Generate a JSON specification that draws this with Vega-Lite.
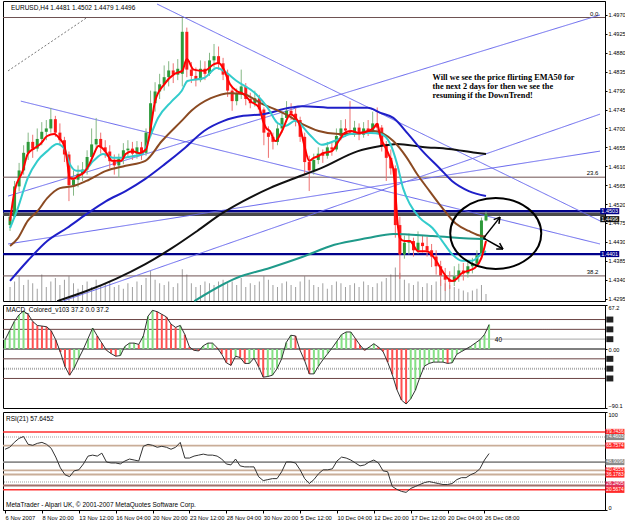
{
"$schema": "https://vega.github.io/schema/vega-lite/v6.json",
"padding": {"left": 0, "top": 0, "right": 0, "bottom": 0},
"background": "#ffffff",
"spacing": 4,
"bounds": "flush",
"config": {"view": {"stroke": "#000000", "strokeWidth": 1}, "text": {"font": "Liberation Sans"}},
"datasets": {
"K": [
{"i":0,"o":1.4470,"h":1.4498,"l":1.4456,"c":1.4490,"v":40,"m":14,"r":62},
{"i":2,"o":1.4490,"h":1.4575,"l":1.4485,"c":1.4562,"v":55,"m":28,"r":64},
{"i":4,"o":1.4562,"h":1.4618,"l":1.4550,"c":1.4600,"v":70,"m":42,"r":69},
{"i":6,"o":1.4600,"h":1.4660,"l":1.4590,"c":1.4642,"v":45,"m":52,"r":73},
{"i":8,"o":1.4642,"h":1.4690,"l":1.4625,"c":1.4668,"v":60,"m":58,"r":75},
{"i":10,"o":1.4668,"h":1.4685,"l":1.4630,"c":1.4652,"v":50,"m":53,"r":67},
{"i":12,"o":1.4652,"h":1.4700,"l":1.4645,"c":1.4675,"v":35,"m":42,"r":66},
{"i":14,"o":1.4675,"h":1.4715,"l":1.4660,"c":1.4692,"v":75,"m":36,"r":68},
{"i":16,"o":1.4692,"h":1.4720,"l":1.4672,"c":1.4700,"v":40,"m":35,"r":69},
{"i":18,"o":1.4700,"h":1.4749,"l":1.4690,"c":1.4722,"v":55,"m":34,"r":67},
{"i":20,"o":1.4722,"h":1.4730,"l":1.4680,"c":1.4690,"v":65,"m":28,"r":63},
{"i":22,"o":1.4690,"h":1.4712,"l":1.4660,"c":1.4672,"v":45,"m":14,"r":54},
{"i":24,"o":1.4672,"h":1.4680,"l":1.4620,"c":1.4638,"v":60,"m":-5,"r":43},
{"i":26,"o":1.4638,"h":1.4645,"l":1.4527,"c":1.4565,"v":70,"m":-27,"r":36},
{"i":28,"o":1.4565,"h":1.4600,"l":1.4540,"c":1.4578,"v":50,"m":-40,"r":34},
{"i":30,"o":1.4578,"h":1.4612,"l":1.4560,"c":1.4592,"v":35,"m":-29,"r":40},
{"i":32,"o":1.4592,"h":1.4620,"l":1.4575,"c":1.4602,"v":45,"m":-14,"r":41},
{"i":34,"o":1.4602,"h":1.4648,"l":1.4590,"c":1.4632,"v":55,"m":0,"r":47},
{"i":36,"o":1.4632,"h":1.4700,"l":1.4620,"c":1.4662,"v":40,"m":16,"r":55},
{"i":38,"o":1.4662,"h":1.4725,"l":1.4650,"c":1.4675,"v":60,"m":32,"r":56},
{"i":40,"o":1.4675,"h":1.4690,"l":1.4640,"c":1.4655,"v":45,"m":20,"r":55},
{"i":42,"o":1.4655,"h":1.4672,"l":1.4630,"c":1.4645,"v":50,"m":9,"r":58},
{"i":44,"o":1.4645,"h":1.4660,"l":1.4605,"c":1.4622,"v":55,"m":-2,"r":49},
{"i":46,"o":1.4622,"h":1.4638,"l":1.4590,"c":1.4612,"v":40,"m":-7,"r":48},
{"i":48,"o":1.4612,"h":1.4640,"l":1.4582,"c":1.4628,"v":45,"m":-11,"r":48},
{"i":50,"o":1.4628,"h":1.4665,"l":1.4615,"c":1.4648,"v":35,"m":-10,"r":47},
{"i":52,"o":1.4648,"h":1.4672,"l":1.4630,"c":1.4652,"v":50,"m":4,"r":50},
{"i":54,"o":1.4652,"h":1.4668,"l":1.4625,"c":1.4640,"v":40,"m":9,"r":52},
{"i":56,"o":1.4640,"h":1.4670,"l":1.4628,"c":1.4655,"v":55,"m":9,"r":51},
{"i":58,"o":1.4655,"h":1.4668,"l":1.4625,"c":1.4642,"v":45,"m":7,"r":50},
{"i":60,"o":1.4642,"h":1.4700,"l":1.4635,"c":1.4690,"v":65,"m":20,"r":65},
{"i":62,"o":1.4690,"h":1.4790,"l":1.4680,"c":1.4760,"v":85,"m":50,"r":67},
{"i":64,"o":1.4760,"h":1.4810,"l":1.4740,"c":1.4788,"v":60,"m":59,"r":66},
{"i":66,"o":1.4788,"h":1.4830,"l":1.4770,"c":1.4805,"v":50,"m":57,"r":64},
{"i":68,"o":1.4805,"h":1.4850,"l":1.4790,"c":1.4822,"v":45,"m":53,"r":65},
{"i":70,"o":1.4822,"h":1.4860,"l":1.4800,"c":1.4838,"v":55,"m":49,"r":64},
{"i":72,"o":1.4838,"h":1.4855,"l":1.4808,"c":1.4828,"v":40,"m":38,"r":62},
{"i":74,"o":1.4828,"h":1.4865,"l":1.4815,"c":1.4842,"v":50,"m":33,"r":64},
{"i":76,"o":1.4830,"h":1.4963,"l":1.4800,"c":1.4930,"v":90,"m":36,"r":69},
{"i":78,"o":1.4930,"h":1.4940,"l":1.4822,"c":1.4840,"v":75,"m":22,"r":53},
{"i":80,"o":1.4840,"h":1.4858,"l":1.4808,"c":1.4825,"v":50,"m":3,"r":53},
{"i":82,"o":1.4825,"h":1.4845,"l":1.4800,"c":1.4815,"v":40,"m":-2,"r":55},
{"i":84,"o":1.4815,"h":1.4862,"l":1.4810,"c":1.4842,"v":45,"m":-3,"r":56},
{"i":86,"o":1.4842,"h":1.4860,"l":1.4815,"c":1.4830,"v":55,"m":5,"r":57},
{"i":88,"o":1.4830,"h":1.4880,"l":1.4825,"c":1.4862,"v":50,"m":9,"r":56},
{"i":90,"o":1.4862,"h":1.4901,"l":1.4845,"c":1.4872,"v":45,"m":9,"r":56},
{"i":92,"o":1.4872,"h":1.4895,"l":1.4840,"c":1.4855,"v":55,"m":2,"r":55},
{"i":94,"o":1.4855,"h":1.4868,"l":1.4815,"c":1.4828,"v":60,"m":-8,"r":52},
{"i":96,"o":1.4828,"h":1.4840,"l":1.4775,"c":1.4790,"v":50,"m":-21,"r":47},
{"i":98,"o":1.4790,"h":1.4800,"l":1.4742,"c":1.4765,"v":55,"m":-25,"r":46},
{"i":100,"o":1.4765,"h":1.4795,"l":1.4755,"c":1.4782,"v":45,"m":-11,"r":52},
{"i":102,"o":1.4782,"h":1.4840,"l":1.4770,"c":1.4800,"v":65,"m":-13,"r":45},
{"i":104,"o":1.4800,"h":1.4808,"l":1.4755,"c":1.4770,"v":40,"m":-22,"r":44},
{"i":106,"o":1.4770,"h":1.4785,"l":1.4748,"c":1.4760,"v":50,"m":-22,"r":44},
{"i":108,"o":1.4760,"h":1.4790,"l":1.4752,"c":1.4772,"v":45,"m":-14,"r":44},
{"i":110,"o":1.4772,"h":1.4780,"l":1.4730,"c":1.4745,"v":55,"m":-27,"r":34},
{"i":112,"o":1.4745,"h":1.4750,"l":1.4660,"c":1.4690,"v":70,"m":-43,"r":30},
{"i":114,"o":1.4690,"h":1.4705,"l":1.4630,"c":1.4680,"v":60,"m":-42,"r":31},
{"i":116,"o":1.4680,"h":1.4690,"l":1.4650,"c":1.4668,"v":45,"m":-40,"r":32},
{"i":118,"o":1.4668,"h":1.4710,"l":1.4660,"c":1.4700,"v":40,"m":-30,"r":32},
{"i":120,"o":1.4700,"h":1.4740,"l":1.4690,"c":1.4725,"v":50,"m":-15,"r":39},
{"i":122,"o":1.4725,"h":1.4765,"l":1.4715,"c":1.4742,"v":55,"m":10,"r":49},
{"i":124,"o":1.4742,"h":1.4760,"l":1.4720,"c":1.4735,"v":45,"m":21,"r":49},
{"i":126,"o":1.4735,"h":1.4748,"l":1.4705,"c":1.4720,"v":40,"m":20,"r":48},
{"i":128,"o":1.4720,"h":1.4728,"l":1.4668,"c":1.4680,"v":55,"m":-2,"r":41},
{"i":130,"o":1.4680,"h":1.4690,"l":1.4590,"c":1.4620,"v":70,"m":-18,"r":32},
{"i":132,"o":1.4620,"h":1.4635,"l":1.4551,"c":1.4600,"v":60,"m":-38,"r":27},
{"i":134,"o":1.4600,"h":1.4640,"l":1.4590,"c":1.4625,"v":45,"m":-38,"r":31},
{"i":136,"o":1.4625,"h":1.4655,"l":1.4615,"c":1.4640,"v":40,"m":-26,"r":37},
{"i":138,"o":1.4640,"h":1.4650,"l":1.4618,"c":1.4635,"v":50,"m":-16,"r":41},
{"i":140,"o":1.4635,"h":1.4668,"l":1.4628,"c":1.4655,"v":35,"m":-7,"r":41},
{"i":142,"o":1.4655,"h":1.4670,"l":1.4635,"c":1.4650,"v":45,"m":2,"r":42},
{"i":144,"o":1.4650,"h":1.4700,"l":1.4645,"c":1.4682,"v":55,"m":12,"r":50},
{"i":146,"o":1.4682,"h":1.4720,"l":1.4672,"c":1.4700,"v":50,"m":22,"r":54},
{"i":148,"o":1.4700,"h":1.4722,"l":1.4680,"c":1.4695,"v":40,"m":26,"r":53},
{"i":150,"o":1.4695,"h":1.4765,"l":1.4685,"c":1.4690,"v":45,"m":26,"r":51},
{"i":152,"o":1.4690,"h":1.4718,"l":1.4680,"c":1.4702,"v":50,"m":16,"r":48},
{"i":154,"o":1.4702,"h":1.4712,"l":1.4672,"c":1.4685,"v":40,"m":6,"r":45},
{"i":156,"o":1.4685,"h":1.4715,"l":1.4678,"c":1.4700,"v":55,"m":-2,"r":46},
{"i":158,"o":1.4700,"h":1.4720,"l":1.4682,"c":1.4695,"v":45,"m":3,"r":49},
{"i":160,"o":1.4695,"h":1.4740,"l":1.4688,"c":1.4712,"v":40,"m":8,"r":51},
{"i":162,"o":1.4712,"h":1.4750,"l":1.4690,"c":1.4702,"v":50,"m":3,"r":48},
{"i":164,"o":1.4702,"h":1.4708,"l":1.4645,"c":1.4660,"v":55,"m":-4,"r":40},
{"i":166,"o":1.4660,"h":1.4670,"l":1.4575,"c":1.4630,"v":65,"m":-20,"r":39},
{"i":168,"o":1.4630,"h":1.4650,"l":1.4590,"c":1.4605,"v":75,"m":-39,"r":24},
{"i":170,"o":1.4605,"h":1.4612,"l":1.4440,"c":1.4470,"v":95,"m":-62,"r":21},
{"i":172,"o":1.4470,"h":1.4490,"l":1.4342,"c":1.4400,"v":80,"m":-78,"r":19},
{"i":174,"o":1.4400,"h":1.4445,"l":1.4390,"c":1.4428,"v":60,"m":-84,"r":18},
{"i":176,"o":1.4428,"h":1.4450,"l":1.4400,"c":1.4432,"v":50,"m":-76,"r":22},
{"i":178,"o":1.4432,"h":1.4440,"l":1.4395,"c":1.4410,"v":45,"m":-63,"r":24},
{"i":180,"o":1.4410,"h":1.4455,"l":1.4402,"c":1.4428,"v":55,"m":-43,"r":26},
{"i":182,"o":1.4428,"h":1.4445,"l":1.4405,"c":1.4420,"v":40,"m":-26,"r":28},
{"i":184,"o":1.4420,"h":1.4442,"l":1.4395,"c":1.4410,"v":50,"m":-22,"r":29},
{"i":186,"o":1.4410,"h":1.4425,"l":1.4370,"c":1.4395,"v":45,"m":-20,"r":28},
{"i":188,"o":1.4395,"h":1.4410,"l":1.4352,"c":1.4372,"v":55,"m":-20,"r":27},
{"i":190,"o":1.4372,"h":1.4385,"l":1.4325,"c":1.4350,"v":60,"m":-20,"r":26},
{"i":192,"o":1.4350,"h":1.4368,"l":1.4313,"c":1.4340,"v":50,"m":-22,"r":26},
{"i":194,"o":1.4340,"h":1.4360,"l":1.4318,"c":1.4335,"v":45,"m":-21,"r":27},
{"i":196,"o":1.4335,"h":1.4372,"l":1.4325,"c":1.4348,"v":40,"m":-8,"r":31},
{"i":198,"o":1.4348,"h":1.4378,"l":1.4335,"c":1.4362,"v":35,"m":-4,"r":33},
{"i":200,"o":1.4362,"h":1.4380,"l":1.4338,"c":1.4355,"v":30,"m":0,"r":33},
{"i":202,"o":1.4355,"h":1.4385,"l":1.4345,"c":1.4372,"v":25,"m":4,"r":36},
{"i":204,"o":1.4372,"h":1.4392,"l":1.4355,"c":1.4378,"v":30,"m":9,"r":38},
{"i":206,"o":1.4378,"h":1.4410,"l":1.4370,"c":1.4398,"v":35,"m":14,"r":42},
{"i":208,"o":1.4398,"h":1.4488,"l":1.4392,"c":1.4481,"v":45,"m":22,"r":51},
{"i":210,"o":1.4481,"h":1.4502,"l":1.4479,"c":1.4496,"v":20,"m":37.2,"r":57.6}
],
"E": [
{"s":"t","i":81.3,"p":1.4289},{"s":"t","i":99.9,"p":1.4344},{"s":"t","i":114.6,"p":1.4368},{"s":"t","i":128.9,"p":1.4394},{"s":"t","i":143.1,"p":1.4423},{"s":"t","i":157.8,"p":1.4439},{"s":"t","i":169.1,"p":1.4449},{"s":"t","i":186.4,"p":1.4444},{"s":"t","i":208,"p":1.4437},{"s":"t","i":210,"p":1.4437},
{"s":"k","i":20.8,"p":1.4289},{"s":"k","i":33.7,"p":1.4313},{"s":"k","i":46.7,"p":1.4342},{"s":"k","i":59.7,"p":1.4377},{"s":"k","i":71.4,"p":1.4415},{"s":"k","i":82.6,"p":1.4456},{"s":"k","i":93,"p":1.4496},{"s":"k","i":102.9,"p":1.4527},{"s":"k","i":114.6,"p":1.4558},{"s":"k","i":125.8,"p":1.4582},{"s":"k","i":137.5,"p":1.4606},{"s":"k","i":153.5,"p":1.4646},{"s":"k","i":163.5,"p":1.4658},{"s":"k","i":170.8,"p":1.4663},{"s":"k","i":182,"p":1.4656},{"s":"k","i":193.7,"p":1.4651},{"s":"k","i":205.4,"p":1.4642},{"s":"k","i":210,"p":1.4639},
{"s":"u","i":0,"p":1.4337},{"s":"u","i":7.8,"p":1.4385},{"s":"u","i":16.4,"p":1.4432},{"s":"u","i":25.1,"p":1.4463},{"s":"u","i":33.7,"p":1.4496},{"s":"u","i":42.4,"p":1.4527},{"s":"u","i":51,"p":1.4551},{"s":"u","i":59.7,"p":1.4580},{"s":"u","i":68.3,"p":1.4615},{"s":"u","i":77,"p":1.4653},{"s":"u","i":85.6,"p":1.4694},{"s":"u","i":94.3,"p":1.4718},{"s":"u","i":102.9,"p":1.4730},{"s":"u","i":111.6,"p":1.4734},{"s":"u","i":123.2,"p":1.4749},{"s":"u","i":128.9,"p":1.4753},{"s":"u","i":143.1,"p":1.4749},{"s":"u","i":157.8,"p":1.4749},{"s":"u","i":163.5,"p":1.4737},{"s":"u","i":169.1,"p":1.4725},{"s":"u","i":175.6,"p":1.4687},{"s":"u","i":182,"p":1.4646},{"s":"u","i":189.4,"p":1.4606},{"s":"u","i":195,"p":1.4575},{"s":"u","i":202.4,"p":1.4551},{"s":"u","i":210,"p":1.4539},
{"s":"b","i":0,"p":1.4420},{"s":"b","i":3.5,"p":1.4439},{"s":"b","i":7.8,"p":1.4480},{"s":"b","i":12.1,"p":1.4503},{"s":"b","i":16.4,"p":1.4534},{"s":"b","i":22,"p":1.4558},{"s":"b","i":28.1,"p":1.4563},{"s":"b","i":33.7,"p":1.4575},{"s":"b","i":42.4,"p":1.4599},{"s":"b","i":51,"p":1.4611},{"s":"b","i":59.7,"p":1.4623},{"s":"b","i":67,"p":1.4670},{"s":"b","i":75.7,"p":1.4718},{"s":"b","i":80,"p":1.4742},{"s":"b","i":88.6,"p":1.4772},{"s":"b","i":97.3,"p":1.4784},{"s":"b","i":102.9,"p":1.4782},{"s":"b","i":110.3,"p":1.4761},{"s":"b","i":121.5,"p":1.4734},{"s":"b","i":128.8,"p":1.4711},{"s":"b","i":136.2,"p":1.4694},{"s":"b","i":144.9,"p":1.4687},{"s":"b","i":150.5,"p":1.4687},{"s":"b","i":160.4,"p":1.4694},{"s":"b","i":164.8,"p":1.4687},{"s":"b","i":169.1,"p":1.4670},{"s":"b","i":175.1,"p":1.4630},{"s":"b","i":179.5,"p":1.4592},{"s":"b","i":185.1,"p":1.4551},{"s":"b","i":190.7,"p":1.4511},{"s":"b","i":196.8,"p":1.4473},{"s":"b","i":202.4,"p":1.4456},{"s":"b","i":208,"p":1.4444},{"s":"b","i":210,"p":1.4443},
{"s":"c","i":0,"p":1.4463},{"s":"c","i":3.5,"p":1.4511},{"s":"c","i":7.8,"p":1.4582},{"s":"c","i":12.1,"p":1.4623},{"s":"c","i":16.4,"p":1.4646},{"s":"c","i":20.8,"p":1.4663},{"s":"c","i":23.8,"p":1.4653},{"s":"c","i":26.4,"p":1.4615},{"s":"c","i":29.4,"p":1.4599},{"s":"c","i":32.4,"p":1.4599},{"s":"c","i":36.8,"p":1.4623},{"s":"c","i":41.1,"p":1.4639},{"s":"c","i":45.4,"p":1.4630},{"s":"c","i":49.7,"p":1.4630},{"s":"c","i":54.1,"p":1.4634},{"s":"c","i":58.4,"p":1.4639},{"s":"c","i":61,"p":1.4670},{"s":"c","i":65.3,"p":1.4725},{"s":"c","i":71.4,"p":1.4765},{"s":"c","i":75.7,"p":1.4789},{"s":"c","i":78.3,"p":1.4813},{"s":"c","i":85.6,"p":1.4820},{"s":"c","i":91.2,"p":1.4844},{"s":"c","i":94.3,"p":1.4837},{"s":"c","i":100,"p":1.4813},{"s":"c","i":108.5,"p":1.4782},{"s":"c","i":113.7,"p":1.4749},{"s":"c","i":118,"p":1.4713},{"s":"c","i":121.5,"p":1.4706},{"s":"c","i":125.8,"p":1.4718},{"s":"c","i":131.9,"p":1.4687},{"s":"c","i":137.5,"p":1.4661},{"s":"c","i":143.1,"p":1.4670},{"s":"c","i":150.5,"p":1.4687},{"s":"c","i":159.1,"p":1.4689},{"s":"c","i":163.5,"p":1.4687},{"s":"c","i":167.8,"p":1.4663},{"s":"c","i":170.8,"p":1.4615},{"s":"c","i":173.4,"p":1.4558},{"s":"c","i":176.4,"p":1.4520},{"s":"c","i":180.8,"p":1.4487},{"s":"c","i":186.4,"p":1.4463},{"s":"c","i":190.7,"p":1.4432},{"s":"c","i":195,"p":1.4401},{"s":"c","i":199.4,"p":1.4385},{"s":"c","i":203.7,"p":1.4385},{"s":"c","i":208,"p":1.4401},{"s":"c","i":210,"p":1.4408},
{"s":"r","i":0,"p":1.4480},{"s":"r","i":2,"p":1.4551},{"s":"r","i":5.6,"p":1.4599},{"s":"r","i":7.8,"p":1.4639},{"s":"r","i":10.8,"p":1.4653},{"s":"r","i":13.4,"p":1.4663},{"s":"r","i":16.4,"p":1.4682},{"s":"r","i":19.5,"p":1.4687},{"s":"r","i":22,"p":1.4675},{"s":"r","i":24,"p":1.4658},{"s":"r","i":25,"p":1.4630},{"s":"r","i":26.4,"p":1.4582},{"s":"r","i":28,"p":1.4580},{"s":"r","i":30,"p":1.4587},{"s":"r","i":32.4,"p":1.4594},{"s":"r","i":35,"p":1.4615},{"s":"r","i":37,"p":1.4639},{"s":"r","i":39,"p":1.4658},{"s":"r","i":42,"p":1.4646},{"s":"r","i":45,"p":1.4623},{"s":"r","i":49,"p":1.4623},{"s":"r","i":51,"p":1.4639},{"s":"r","i":54,"p":1.4646},{"s":"r","i":57,"p":1.4641},{"s":"r","i":60,"p":1.4650},{"s":"r","i":62,"p":1.4700},{"s":"r","i":64,"p":1.4765},{"s":"r","i":68,"p":1.4805},{"s":"r","i":72.6,"p":1.4830},{"s":"r","i":76,"p":1.4837},{"s":"r","i":78,"p":1.4865},{"s":"r","i":81,"p":1.4840},{"s":"r","i":85.6,"p":1.4837},{"s":"r","i":90,"p":1.4853},{"s":"r","i":92,"p":1.4856},{"s":"r","i":94,"p":1.4844},{"s":"r","i":97,"p":1.4806},{"s":"r","i":100,"p":1.4789},{"s":"r","i":103,"p":1.4782},{"s":"r","i":106,"p":1.4765},{"s":"r","i":110,"p":1.4749},{"s":"r","i":111.6,"p":1.4718},{"s":"r","i":113,"p":1.4701},{"s":"r","i":114.6,"p":1.4694},{"s":"r","i":117,"p":1.4670},{"s":"r","i":120,"p":1.4694},{"s":"r","i":123.7,"p":1.4734},{"s":"r","i":126,"p":1.4725},{"s":"r","i":127.6,"p":1.4711},{"s":"r","i":129.7,"p":1.4663},{"s":"r","i":132,"p":1.4623},{"s":"r","i":134,"p":1.4630},{"s":"r","i":136,"p":1.4634},{"s":"r","i":138,"p":1.4641},{"s":"r","i":142,"p":1.4646},{"s":"r","i":145,"p":1.4670},{"s":"r","i":147.5,"p":1.4689},{"s":"r","i":150.5,"p":1.4694},{"s":"r","i":154,"p":1.4689},{"s":"r","i":158,"p":1.4694},{"s":"r","i":160.4,"p":1.4701},{"s":"r","i":162,"p":1.4711},{"s":"r","i":163.5,"p":1.4677},{"s":"r","i":164.8,"p":1.4663},{"s":"r","i":167,"p":1.4639},{"s":"r","i":169,"p":1.4606},{"s":"r","i":170,"p":1.4551},{"s":"r","i":170.8,"p":1.4487},{"s":"r","i":172,"p":1.4439},{"s":"r","i":174,"p":1.4432},{"s":"r","i":176.4,"p":1.4432},{"s":"r","i":180,"p":1.4408},{"s":"r","i":184,"p":1.4408},{"s":"r","i":188,"p":1.4385},{"s":"r","i":190.7,"p":1.4361},{"s":"r","i":193,"p":1.4344},{"s":"r","i":195,"p":1.4337},{"s":"r","i":197,"p":1.4342},{"s":"r","i":199,"p":1.4354},{"s":"r","i":202,"p":1.4361},{"s":"r","i":205,"p":1.4368},{"s":"r","i":208,"p":1.4392},{"s":"r","i":210,"p":1.4432}
],
"T": [
{"i":64.9,"p":1.4996,"i2":260.3,"p2":1.4480,"d":"s"},
{"i":4.76,"p":1.4765,"i2":260.3,"p2":1.4425,"d":"s"},
{"i":-0.86,"p":1.4539,"i2":260.3,"p2":1.4970,"d":"s"},
{"i":-0.86,"p":1.4425,"i2":260.3,"p2":1.4646,"d":"s"},
{"i":23.3,"p":1.4289,"i2":260.3,"p2":1.4734,"d":"s"},
{"i":-0.86,"p":1.4837,"i2":33.7,"p2":1.4963,"d":"d"}
],
"H": [
{"p":1.4964,"k":"f"},{"p":1.4584,"k":"f"},{"p":1.4349,"k":"f"},
{"p":1.4496,"k":"b"},{"p":1.4503,"k":"n"},{"p":1.4401,"k":"n"}
],
"A": [
{"i":208.9,"p":1.4439,"i2":216.2,"p2":1.4489},
{"i":213.4,"p":1.4483,"i2":216.2,"p2":1.4489},
{"i":215.7,"p":1.4473,"i2":216.2,"p2":1.4489},
{"i":208.9,"p":1.4439,"i2":217.5,"p2":1.4413},
{"i":216.0,"p":1.4427,"i2":217.5,"p2":1.4413},
{"i":214.5,"p":1.4413,"i2":217.5,"p2":1.4413}
]
},
"vconcat": [
{
"width": 602, "height": 300,
"layer": [
{"data": {"name": "K"}, "mark": {"type": "bar", "width": 1, "color": "#a0a0a0"},
 "encoding": {"x": {"field": "i", "type": "quantitative", "scale": {"domain": [-0.9, 260.3], "nice": false, "zero": false}, "axis": null},
  "y": {"field": "v", "type": "quantitative", "scale": {"domain": [0, 850], "nice": false}, "axis": null}}},
{"layer": [
 {"data": {"name": "H"}, "mark": {"type": "rule"},
  "encoding": {"y": {"field": "p", "type": "quantitative", "scale": {"domain": [1.42893, 1.50033], "nice": false, "zero": false}, "axis": {"orient": "right", "values": [1.4295,1.434,1.4385,1.443,1.4475,1.452,1.4565,1.461,1.4655,1.47,1.4745,1.479,1.4835,1.488,1.4925,1.497], "format": ".4f", "title": null, "labelFontSize": 5.6, "labelFont": "Liberation Sans", "tickSize": 2, "labelPadding": 1, "domainColor": "#000", "tickColor": "#000", "labelColor": "#000", "grid": false, "labelOverlap": false, "labelFlush": false}},
   "color": {"field": "k", "type": "nominal", "scale": {"domain": ["f","n","b"], "range": ["#6e5252","#00008b","#4a4a4a"]}, "legend": null},
   "strokeWidth": {"field": "k", "type": "nominal", "scale": {"domain": ["f","n","b"], "range": [1,3.5,1]}, "legend": null}}},
 {"data": {"name": "T"}, "mark": {"type": "rule", "strokeWidth": 1},
  "encoding": {"x": {"field": "i", "type": "quantitative", "scale": {"domain": [-0.9, 260.3], "nice": false, "zero": false}, "axis": null}, "x2": {"field": "i2"},
   "y": {"field": "p", "type": "quantitative", "scale": {"domain": [1.42893, 1.50033], "nice": false, "zero": false}, "axis": {"orient": "right", "values": [1.4295,1.434,1.4385,1.443,1.4475,1.452,1.4565,1.461,1.4655,1.47,1.4745,1.479,1.4835,1.488,1.4925,1.497], "format": ".4f", "title": null, "labelFontSize": 5.6, "labelFont": "Liberation Sans", "tickSize": 2, "labelPadding": 1, "domainColor": "#000", "tickColor": "#000", "labelColor": "#000", "grid": false, "labelOverlap": false, "labelFlush": false}}, "y2": {"field": "p2"},
   "color": {"field": "d", "type": "nominal", "scale": {"domain": ["s","d"], "range": ["#6666ee","#777777"]}, "legend": null},
   "strokeDash": {"field": "d", "type": "nominal", "scale": {"domain": ["s","d"], "range": [[1,0],[2,2]]}, "legend": null}}},
 {"data": {"name": "K"}, "mark": {"type": "rule", "strokeWidth": 1},
  "encoding": {"x": {"field": "i", "type": "quantitative", "scale": {"domain": [-0.9, 260.3], "nice": false, "zero": false}, "axis": null},
   "y": {"field": "l", "type": "quantitative", "scale": {"domain": [1.42893, 1.50033], "nice": false, "zero": false}, "axis": {"orient": "right", "values": [1.4295,1.434,1.4385,1.443,1.4475,1.452,1.4565,1.461,1.4655,1.47,1.4745,1.479,1.4835,1.488,1.4925,1.497], "format": ".4f", "title": null, "labelFontSize": 5.6, "labelFont": "Liberation Sans", "tickSize": 2, "labelPadding": 1, "domainColor": "#000", "tickColor": "#000", "labelColor": "#000", "grid": false, "labelOverlap": false, "labelFlush": false}}, "y2": {"field": "h"},
   "color": {"condition": {"test": "datum.c >= datum.o", "value": "#86b886"}, "value": "#ee7070"}}},
 {"data": {"name": "K"}, "mark": {"type": "bar", "width": 3},
  "encoding": {"x": {"field": "i", "type": "quantitative", "scale": {"domain": [-0.9, 260.3], "nice": false, "zero": false}, "axis": null},
   "y": {"field": "o", "type": "quantitative", "scale": {"domain": [1.42893, 1.50033], "nice": false, "zero": false}, "axis": {"orient": "right", "values": [1.4295,1.434,1.4385,1.443,1.4475,1.452,1.4565,1.461,1.4655,1.47,1.4745,1.479,1.4835,1.488,1.4925,1.497], "format": ".4f", "title": null, "labelFontSize": 5.6, "labelFont": "Liberation Sans", "tickSize": 2, "labelPadding": 1, "domainColor": "#000", "tickColor": "#000", "labelColor": "#000", "grid": false, "labelOverlap": false, "labelFlush": false}}, "y2": {"field": "c"},
   "color": {"condition": {"test": "datum.c >= datum.o", "value": "#2e9a3a"}, "value": "#ff1a1a"}}},
 {"data": {"name": "E"}, "mark": {"type": "line", "interpolate": "monotone"},
  "encoding": {"x": {"field": "i", "type": "quantitative", "scale": {"domain": [-0.9, 260.3], "nice": false, "zero": false}, "axis": null},
   "y": {"field": "p", "type": "quantitative", "scale": {"domain": [1.42893, 1.50033], "nice": false, "zero": false}, "axis": {"orient": "right", "values": [1.4295,1.434,1.4385,1.443,1.4475,1.452,1.4565,1.461,1.4655,1.47,1.4745,1.479,1.4835,1.488,1.4925,1.497], "format": ".4f", "title": null, "labelFontSize": 5.6, "labelFont": "Liberation Sans", "tickSize": 2, "labelPadding": 1, "domainColor": "#000", "tickColor": "#000", "labelColor": "#000", "grid": false, "labelOverlap": false, "labelFlush": false}},
   "color": {"field": "s", "type": "nominal", "scale": {"domain": ["t","k","u","b","c","r"], "range": ["#1f9a8a","#111111","#1f1fc8","#8b4a22","#33cccc","#ff0000"]}, "legend": null},
   "strokeWidth": {"field": "s", "type": "nominal", "scale": {"domain": ["t","k","u","b","c","r"], "range": [2,2,2.5,1.5,1.5,2]}, "legend": null}}},
 {"data": {"name": "A"}, "mark": {"type": "rule", "color": "#000", "strokeWidth": 1.5},
  "encoding": {"x": {"field": "i", "type": "quantitative", "scale": {"domain": [-0.9, 260.3], "nice": false, "zero": false}, "axis": null}, "x2": {"field": "i2"},
   "y": {"field": "p", "type": "quantitative", "scale": {"domain": [1.42893, 1.50033], "nice": false, "zero": false}, "axis": {"orient": "right", "values": [1.4295,1.434,1.4385,1.443,1.4475,1.452,1.4565,1.461,1.4655,1.47,1.4745,1.479,1.4835,1.488,1.4925,1.497], "format": ".4f", "title": null, "labelFontSize": 5.6, "labelFont": "Liberation Sans", "tickSize": 2, "labelPadding": 1, "domainColor": "#000", "tickColor": "#000", "labelColor": "#000", "grid": false, "labelOverlap": false, "labelFlush": false}}, "y2": {"field": "p2"}}},
 {"data": {"values": [{"i": 214.3, "p": 1.4450}]},
  "mark": {"type": "point", "shape": "M -1 0 A 1 0.78 0 1 1 1 0 A 1 0.78 0 1 1 -1 0 Z", "size": 8281, "filled": false, "stroke": "#000", "strokeWidth": 2, "opacity": 1},
  "encoding": {"x": {"field": "i", "type": "quantitative", "scale": {"domain": [-0.9, 260.3], "nice": false, "zero": false}, "axis": null},
   "y": {"field": "p", "type": "quantitative", "scale": {"domain": [1.42893, 1.50033], "nice": false, "zero": false}, "axis": {"orient": "right", "values": [1.4295,1.434,1.4385,1.443,1.4475,1.452,1.4565,1.461,1.4655,1.47,1.4745,1.479,1.4835,1.488,1.4925,1.497], "format": ".4f", "title": null, "labelFontSize": 5.6, "labelFont": "Liberation Sans", "tickSize": 2, "labelPadding": 1, "domainColor": "#000", "tickColor": "#000", "labelColor": "#000", "grid": false, "labelOverlap": false, "labelFlush": false}}}},
 {"data": {"values": [{"t": "EURUSD,H4  1.4481 1.4502 1.4479 1.4496", "i": 0.4, "p": 1.4987}]},
  "mark": {"type": "text", "align": "left", "baseline": "middle", "font": "Liberation Sans", "fontSize": 6.5, "color": "#000"},
  "encoding": {"x": {"field": "i", "type": "quantitative", "scale": {"domain": [-0.9, 260.3], "nice": false, "zero": false}, "axis": null},
   "y": {"field": "p", "type": "quantitative", "scale": {"domain": [1.42893, 1.50033], "nice": false, "zero": false}, "axis": {"orient": "right", "values": [1.4295,1.434,1.4385,1.443,1.4475,1.452,1.4565,1.461,1.4655,1.47,1.4745,1.479,1.4835,1.488,1.4925,1.497], "format": ".4f", "title": null, "labelFontSize": 5.6, "labelFont": "Liberation Sans", "tickSize": 2, "labelPadding": 1, "domainColor": "#000", "tickColor": "#000", "labelColor": "#000", "grid": false, "labelOverlap": false, "labelFlush": false}}, "text": {"field": "t"}}},
 {"data": {"values": [{"t": "Will we see the price flirting EMA50 for", "i": 186.4, "p": 1.4820}, {"t": "the next 2 days for then we see the", "i": 186.4, "p": 1.4799}, {"t": "resuming if the DownTrend!", "i": 186.4, "p": 1.4777}]},
  "mark": {"type": "text", "align": "left", "baseline": "middle", "font": "Liberation Serif", "fontWeight": "bold", "fontSize": 8.3, "color": "#000"},
  "encoding": {"x": {"field": "i", "type": "quantitative", "scale": {"domain": [-0.9, 260.3], "nice": false, "zero": false}, "axis": null},
   "y": {"field": "p", "type": "quantitative", "scale": {"domain": [1.42893, 1.50033], "nice": false, "zero": false}, "axis": {"orient": "right", "values": [1.4295,1.434,1.4385,1.443,1.4475,1.452,1.4565,1.461,1.4655,1.47,1.4745,1.479,1.4835,1.488,1.4925,1.497], "format": ".4f", "title": null, "labelFontSize": 5.6, "labelFont": "Liberation Sans", "tickSize": 2, "labelPadding": 1, "domainColor": "#000", "tickColor": "#000", "labelColor": "#000", "grid": false, "labelOverlap": false, "labelFlush": false}}, "text": {"field": "t"}}},
 {"data": {"values": [{"t": "0.0", "i": 259.6, "p": 1.4964}, {"t": "23.6", "i": 259.6, "p": 1.4584}, {"t": "38.2", "i": 259.6, "p": 1.4349}]},
  "mark": {"type": "text", "align": "right", "baseline": "bottom", "dy": -1, "font": "Liberation Sans", "fontSize": 6, "color": "#000"},
  "encoding": {"x": {"field": "i", "type": "quantitative", "scale": {"domain": [-0.9, 260.3], "nice": false, "zero": false}, "axis": null},
   "y": {"field": "p", "type": "quantitative", "scale": {"domain": [1.42893, 1.50033], "nice": false, "zero": false}, "axis": {"orient": "right", "values": [1.4295,1.434,1.4385,1.443,1.4475,1.452,1.4565,1.461,1.4655,1.47,1.4745,1.479,1.4835,1.488,1.4925,1.497], "format": ".4f", "title": null, "labelFontSize": 5.6, "labelFont": "Liberation Sans", "tickSize": 2, "labelPadding": 1, "domainColor": "#000", "tickColor": "#000", "labelColor": "#000", "grid": false, "labelOverlap": false, "labelFlush": false}}, "text": {"field": "t"}}},
 {"data": {"values": [{"t": "1.4503", "i": 264.6, "p": 1.4503}, {"t": "1.4401", "i": 264.6, "p": 1.4401}]},
  "mark": {"type": "point", "shape": "M -1 -0.32 L 1 -0.32 L 1 0.32 L -1 0.32 Z", "size": 361, "filled": true, "color": "#00008b", "opacity": 1},
  "encoding": {"x": {"field": "i", "type": "quantitative", "scale": {"domain": [-0.9, 260.3], "nice": false, "zero": false}, "axis": null},
   "y": {"field": "p", "type": "quantitative", "scale": {"domain": [1.42893, 1.50033], "nice": false, "zero": false}, "axis": {"orient": "right", "values": [1.4295,1.434,1.4385,1.443,1.4475,1.452,1.4565,1.461,1.4655,1.47,1.4745,1.479,1.4835,1.488,1.4925,1.497], "format": ".4f", "title": null, "labelFontSize": 5.6, "labelFont": "Liberation Sans", "tickSize": 2, "labelPadding": 1, "domainColor": "#000", "tickColor": "#000", "labelColor": "#000", "grid": false, "labelOverlap": false, "labelFlush": false}}}},
 {"data": {"values": [{"t": "1.4503", "i": 264.6, "p": 1.4503}, {"t": "1.4401", "i": 264.6, "p": 1.4401}]},
  "mark": {"type": "text", "align": "center", "baseline": "middle", "font": "Liberation Sans", "fontSize": 5.5, "color": "#ffffff"},
  "encoding": {"x": {"field": "i", "type": "quantitative", "scale": {"domain": [-0.9, 260.3], "nice": false, "zero": false}, "axis": null},
   "y": {"field": "p", "type": "quantitative", "scale": {"domain": [1.42893, 1.50033], "nice": false, "zero": false}, "axis": {"orient": "right", "values": [1.4295,1.434,1.4385,1.443,1.4475,1.452,1.4565,1.461,1.4655,1.47,1.4745,1.479,1.4835,1.488,1.4925,1.497], "format": ".4f", "title": null, "labelFontSize": 5.6, "labelFont": "Liberation Sans", "tickSize": 2, "labelPadding": 1, "domainColor": "#000", "tickColor": "#000", "labelColor": "#000", "grid": false, "labelOverlap": false, "labelFlush": false}}, "text": {"field": "t"}}},
 {"data": {"values": [{"t": "1.4496", "i": 264.6, "p": 1.4496}]},
  "mark": {"type": "point", "shape": "M -1 -0.32 L 1 -0.32 L 1 0.32 L -1 0.32 Z", "size": 361, "filled": true, "color": "#111111", "opacity": 1, "yOffset": 5},
  "encoding": {"x": {"field": "i", "type": "quantitative", "scale": {"domain": [-0.9, 260.3], "nice": false, "zero": false}, "axis": null},
   "y": {"field": "p", "type": "quantitative", "scale": {"domain": [1.42893, 1.50033], "nice": false, "zero": false}, "axis": {"orient": "right", "values": [1.4295,1.434,1.4385,1.443,1.4475,1.452,1.4565,1.461,1.4655,1.47,1.4745,1.479,1.4835,1.488,1.4925,1.497], "format": ".4f", "title": null, "labelFontSize": 5.6, "labelFont": "Liberation Sans", "tickSize": 2, "labelPadding": 1, "domainColor": "#000", "tickColor": "#000", "labelColor": "#000", "grid": false, "labelOverlap": false, "labelFlush": false}}}},
 {"data": {"values": [{"t": "1.4496", "i": 264.6, "p": 1.4496}]},
  "mark": {"type": "text", "align": "center", "baseline": "middle", "font": "Liberation Sans", "fontSize": 5.5, "color": "#ffffff", "yOffset": 5},
  "encoding": {"x": {"field": "i", "type": "quantitative", "scale": {"domain": [-0.9, 260.3], "nice": false, "zero": false}, "axis": null},
   "y": {"field": "p", "type": "quantitative", "scale": {"domain": [1.42893, 1.50033], "nice": false, "zero": false}, "axis": {"orient": "right", "values": [1.4295,1.434,1.4385,1.443,1.4475,1.452,1.4565,1.461,1.4655,1.47,1.4745,1.479,1.4835,1.488,1.4925,1.497], "format": ".4f", "title": null, "labelFontSize": 5.6, "labelFont": "Liberation Sans", "tickSize": 2, "labelPadding": 1, "domainColor": "#000", "tickColor": "#000", "labelColor": "#000", "grid": false, "labelOverlap": false, "labelFlush": false}}, "text": {"field": "t"}}}
],
"resolve": {"scale": {"color": "independent", "strokeWidth": "independent", "strokeDash": "independent"}}
}
],
"resolve": {"scale": {"y": "independent", "color": "independent", "strokeWidth": "independent", "strokeDash": "independent"}}
},
{
"width": 602, "height": 103,
"layer": [
 {"data": {"values": [{"m":45,"k":"d"},{"m":30,"k":"d"},{"m":15,"k":"g"},{"m":0,"k":"z"},{"m":-15,"k":"d"},{"m":-30,"k":"q"},{"m":-45,"k":"d"}]},
  "mark": {"type": "rule"},
  "encoding": {"y": {"field": "m", "type": "quantitative", "scale": {"domain": [-90.1, 67.2], "nice": false, "zero": false}, "axis": {"orient": "right", "values": [67.2, 0, -90.1], "labelExpr": "datum.value == 0 ? '0.00' : format(datum.value, '.1f')", "title": null, "labelFontSize": 5.6, "labelFont": "Liberation Sans", "tickSize": 2, "labelPadding": 1, "domainColor": "#000", "tickColor": "#000", "labelColor": "#000", "grid": false, "labelOverlap": false, "labelFlush": true}},
   "color": {"field": "k", "type": "nominal", "scale": {"domain": ["d","g","z","q"], "range": ["#6b4444","#b8b8b8","#555555","#aaaaaa"]}, "legend": null},
   "strokeWidth": {"field": "k", "type": "nominal", "scale": {"domain": ["d","g","z","q"], "range": [1,2,1,2]}, "legend": null},
   "strokeDash": {"field": "k", "type": "nominal", "scale": {"domain": ["d","g","z","q"], "range": [[1,0],[1,0],[1,0],[1,1]]}, "legend": null}}},
 {"data": {"name": "K"},
  "transform": [{"window": [{"op": "lag", "field": "m", "as": "pm"}], "sort": [{"field": "i", "order": "ascending"}]}],
  "mark": {"type": "rule", "strokeWidth": 2},
  "encoding": {"x": {"field": "i", "type": "quantitative", "scale": {"domain": [-0.9, 260.3], "nice": false, "zero": false}, "axis": null},
   "y": {"field": "m", "type": "quantitative", "scale": {"domain": [-90.1, 67.2], "nice": false, "zero": false}, "axis": {"orient": "right", "values": [67.2, 0, -90.1], "labelExpr": "datum.value == 0 ? '0.00' : format(datum.value, '.1f')", "title": null, "labelFontSize": 5.6, "labelFont": "Liberation Sans", "tickSize": 2, "labelPadding": 1, "domainColor": "#000", "tickColor": "#000", "labelColor": "#000", "grid": false, "labelOverlap": false, "labelFlush": true}}, "y2": {"datum": 0},
   "color": {"condition": {"test": "datum.pm == null || datum.m >= datum.pm", "value": "#84e084"}, "value": "#ff5050"}}},
 {"data": {"name": "K"}, "mark": {"type": "line", "color": "#333333", "strokeWidth": 1},
  "encoding": {"x": {"field": "i", "type": "quantitative", "scale": {"domain": [-0.9, 260.3], "nice": false, "zero": false}, "axis": null},
   "y": {"field": "m", "type": "quantitative", "scale": {"domain": [-90.1, 67.2], "nice": false, "zero": false}, "axis": {"orient": "right", "values": [67.2, 0, -90.1], "labelExpr": "datum.value == 0 ? '0.00' : format(datum.value, '.1f')", "title": null, "labelFontSize": 5.6, "labelFont": "Liberation Sans", "tickSize": 2, "labelPadding": 1, "domainColor": "#000", "tickColor": "#000", "labelColor": "#000", "grid": false, "labelOverlap": false, "labelFlush": true}}}},
 {"data": {"values": [{"m":45,"i":262.4},{"m":30,"i":262.4},{"m":15,"i":262.4},{"m":-15,"i":262.4},{"m":-30,"i":262.4},{"m":-45,"i":262.4}]},
  "mark": {"type": "point", "shape": "M -1 -0.85 L 1 -0.85 L 1 0.85 L -1 0.85 Z", "size": 49, "filled": true, "color": "#222222", "opacity": 1},
  "encoding": {"x": {"field": "i", "type": "quantitative", "scale": {"domain": [-0.9, 260.3], "nice": false, "zero": false}, "axis": null},
   "y": {"field": "m", "type": "quantitative", "scale": {"domain": [-90.1, 67.2], "nice": false, "zero": false}, "axis": {"orient": "right", "values": [67.2, 0, -90.1], "labelExpr": "datum.value == 0 ? '0.00' : format(datum.value, '.1f')", "title": null, "labelFontSize": 5.6, "labelFont": "Liberation Sans", "tickSize": 2, "labelPadding": 1, "domainColor": "#000", "tickColor": "#000", "labelColor": "#000", "grid": false, "labelOverlap": false, "labelFlush": true}}}},
 {"data": {"values": [{"t": "MACD_Colored_v103 37.2 0.0 37.2", "i": 0.4, "m": 59}, {"t": "40", "i": 212.5, "m": 14}]},
  "mark": {"type": "text", "align": "left", "baseline": "middle", "font": "Liberation Sans", "fontSize": 6.5, "color": "#000"},
  "encoding": {"x": {"field": "i", "type": "quantitative", "scale": {"domain": [-0.9, 260.3], "nice": false, "zero": false}, "axis": null},
   "y": {"field": "m", "type": "quantitative", "scale": {"domain": [-90.1, 67.2], "nice": false, "zero": false}, "axis": {"orient": "right", "values": [67.2, 0, -90.1], "labelExpr": "datum.value == 0 ? '0.00' : format(datum.value, '.1f')", "title": null, "labelFontSize": 5.6, "labelFont": "Liberation Sans", "tickSize": 2, "labelPadding": 1, "domainColor": "#000", "tickColor": "#000", "labelColor": "#000", "grid": false, "labelOverlap": false, "labelFlush": true}}, "text": {"field": "t"}}}
],
"resolve": {"scale": {"color": "independent", "strokeWidth": "independent", "strokeDash": "independent"}}
},
{
"width": 602, "height": 98,
"layer": [
 {"data": {"values": [{"r":79.7,"k":"red"},{"r":74.46,"k":"dot"},{"r":65.75,"k":"tan"},{"r":48.9,"k":"gray"},{"r":40.45,"k":"tan"},{"r":36.17,"k":"tan2"},{"r":28.5,"k":"dot"},{"r":25,"k":"brn"},{"r":20.56,"k":"red"}]},
  "mark": {"type": "rule"},
  "encoding": {"y": {"field": "r", "type": "quantitative", "scale": {"domain": [0, 100], "nice": false, "zero": false}, "axis": {"orient": "right", "values": [0, 100], "title": null, "labelFontSize": 5.6, "labelFont": "Liberation Sans", "tickSize": 2, "labelPadding": 1, "domainColor": "#000", "tickColor": "#000", "labelColor": "#000", "grid": false, "labelOverlap": false, "labelFlush": true}},
   "color": {"field": "k", "type": "nominal", "scale": {"domain": ["red","dot","tan","gray","tan2","brn"], "range": ["#ff3333","#c0c0c0","#c9ad98","#8c8c8c","#c9ad98","#a0706a"]}, "legend": null},
   "strokeWidth": {"field": "k", "type": "nominal", "scale": {"domain": ["red","dot","tan","gray","tan2","brn"], "range": [1.5,2,3,1.5,2,1]}, "legend": null},
   "strokeDash": {"field": "k", "type": "nominal", "scale": {"domain": ["red","dot","tan","gray","tan2","brn"], "range": [[1,0],[1,1],[1,0],[1,0],[1,0],[1,0]]}, "legend": null}}},
 {"data": {"name": "K"}, "mark": {"type": "line", "color": "#333333", "strokeWidth": 1},
  "encoding": {"x": {"field": "i", "type": "quantitative", "scale": {"domain": [-0.9, 260.3], "nice": false, "zero": false},
    "axis": {"orient": "bottom", "values": [0,16,32,48,64,80,96,112,128,144,160,176,192,208], "labelExpr": "['6 Nov 2007','8 Nov 20:00','13 Nov 12:00','16 Nov 04:00','20 Nov 20:00','23 Nov 12:00','28 Nov 04:00','30 Nov 20:00','5 Dec 12:00','10 Dec 04:00','12 Dec 20:00','17 Dec 12:00','20 Dec 04:00','26 Dec 08:00'][round(datum.value/16)]", "labelAlign": "left", "labelFontSize": 5.8, "labelFont": "Liberation Sans", "labelColor": "#000", "tickSize": 3, "labelPadding": 1, "domainColor": "#000", "tickColor": "#000", "grid": false, "title": null, "labelOverlap": false, "labelFlush": false, "labelBound": false}},
   "y": {"field": "r", "type": "quantitative", "scale": {"domain": [0, 100], "nice": false, "zero": false}, "axis": {"orient": "right", "values": [0, 100], "title": null, "labelFontSize": 5.6, "labelFont": "Liberation Sans", "tickSize": 2, "labelPadding": 1, "domainColor": "#000", "tickColor": "#000", "labelColor": "#000", "grid": false, "labelOverlap": false, "labelFlush": true}}}},
 {"data": {"values": [{"r":79.7,"t":"79.7436","k":"r","i":264.6},{"r":74.46,"t":"74.4603","k":"g","i":264.6},{"r":65.75,"t":"65.7574","k":"r","i":264.6},{"r":48.9,"t":"48.9096","k":"g","i":264.6},{"r":40.45,"t":"40.4553","k":"r","i":264.6},{"r":36.17,"t":"36.1783","k":"r","i":264.6},{"r":26.24,"t":"26.2405","k":"m","i":264.6},{"r":20.56,"t":"20.5674","k":"r","i":264.6}]},
  "mark": {"type": "point", "shape": "M -1 -0.32 L 1 -0.32 L 1 0.32 L -1 0.32 Z", "size": 361, "filled": true, "opacity": 1},
  "encoding": {"x": {"field": "i", "type": "quantitative", "scale": {"domain": [-0.9, 260.3], "nice": false, "zero": false}, "axis": {"orient": "bottom", "values": [0,16,32,48,64,80,96,112,128,144,160,176,192,208], "labelExpr": "['6 Nov 2007','8 Nov 20:00','13 Nov 12:00','16 Nov 04:00','20 Nov 20:00','23 Nov 12:00','28 Nov 04:00','30 Nov 20:00','5 Dec 12:00','10 Dec 04:00','12 Dec 20:00','17 Dec 12:00','20 Dec 04:00','26 Dec 08:00'][round(datum.value/16)]", "labelAlign": "left", "labelFontSize": 5.8, "labelFont": "Liberation Sans", "labelColor": "#000", "tickSize": 3, "labelPadding": 1, "domainColor": "#000", "tickColor": "#000", "grid": false, "title": null, "labelOverlap": false, "labelFlush": false, "labelBound": false}},
   "y": {"field": "r", "type": "quantitative", "scale": {"domain": [0, 100], "nice": false, "zero": false}, "axis": {"orient": "right", "values": [0, 100], "title": null, "labelFontSize": 5.6, "labelFont": "Liberation Sans", "tickSize": 2, "labelPadding": 1, "domainColor": "#000", "tickColor": "#000", "labelColor": "#000", "grid": false, "labelOverlap": false, "labelFlush": true}},
   "color": {"field": "k", "type": "nominal", "scale": {"domain": ["r","g","m"], "range": ["#ff2a2a","#8a8a8a","#e0305a"]}, "legend": null}}},
 {"data": {"values": [{"r":79.7,"t":"79.7436","i":264.6},{"r":74.46,"t":"74.4603","i":264.6},{"r":65.75,"t":"65.7574","i":264.6},{"r":48.9,"t":"48.9096","i":264.6},{"r":40.45,"t":"40.4553","i":264.6},{"r":36.17,"t":"36.1783","i":264.6},{"r":26.24,"t":"26.2405","i":264.6},{"r":20.56,"t":"20.5674","i":264.6}]},
  "mark": {"type": "text", "align": "center", "baseline": "middle", "font": "Liberation Sans", "fontSize": 4.8, "color": "#ffffff"},
  "encoding": {"x": {"field": "i", "type": "quantitative", "scale": {"domain": [-0.9, 260.3], "nice": false, "zero": false}, "axis": {"orient": "bottom", "values": [0,16,32,48,64,80,96,112,128,144,160,176,192,208], "labelExpr": "['6 Nov 2007','8 Nov 20:00','13 Nov 12:00','16 Nov 04:00','20 Nov 20:00','23 Nov 12:00','28 Nov 04:00','30 Nov 20:00','5 Dec 12:00','10 Dec 04:00','12 Dec 20:00','17 Dec 12:00','20 Dec 04:00','26 Dec 08:00'][round(datum.value/16)]", "labelAlign": "left", "labelFontSize": 5.8, "labelFont": "Liberation Sans", "labelColor": "#000", "tickSize": 3, "labelPadding": 1, "domainColor": "#000", "tickColor": "#000", "grid": false, "title": null, "labelOverlap": false, "labelFlush": false, "labelBound": false}},
   "y": {"field": "r", "type": "quantitative", "scale": {"domain": [0, 100], "nice": false, "zero": false}, "axis": {"orient": "right", "values": [0, 100], "title": null, "labelFontSize": 5.6, "labelFont": "Liberation Sans", "tickSize": 2, "labelPadding": 1, "domainColor": "#000", "tickColor": "#000", "labelColor": "#000", "grid": false, "labelOverlap": false, "labelFlush": true}}, "text": {"field": "t"}}},
 {"data": {"values": [{"t": "RSI(21) 57.6452", "i": 0.4, "r": 93}, {"t": "MetaTrader - Alpari UK, © 2001-2007 MetaQuotes Software Corp.", "i": 0.4, "r": 5}]},
  "mark": {"type": "text", "align": "left", "baseline": "middle", "font": "Liberation Sans", "fontSize": 6.5, "color": "#000"},
  "encoding": {"x": {"field": "i", "type": "quantitative", "scale": {"domain": [-0.9, 260.3], "nice": false, "zero": false}, "axis": {"orient": "bottom", "values": [0,16,32,48,64,80,96,112,128,144,160,176,192,208], "labelExpr": "['6 Nov 2007','8 Nov 20:00','13 Nov 12:00','16 Nov 04:00','20 Nov 20:00','23 Nov 12:00','28 Nov 04:00','30 Nov 20:00','5 Dec 12:00','10 Dec 04:00','12 Dec 20:00','17 Dec 12:00','20 Dec 04:00','26 Dec 08:00'][round(datum.value/16)]", "labelAlign": "left", "labelFontSize": 5.8, "labelFont": "Liberation Sans", "labelColor": "#000", "tickSize": 3, "labelPadding": 1, "domainColor": "#000", "tickColor": "#000", "grid": false, "title": null, "labelOverlap": false, "labelFlush": false, "labelBound": false}},
   "y": {"field": "r", "type": "quantitative", "scale": {"domain": [0, 100], "nice": false, "zero": false}, "axis": {"orient": "right", "values": [0, 100], "title": null, "labelFontSize": 5.6, "labelFont": "Liberation Sans", "tickSize": 2, "labelPadding": 1, "domainColor": "#000", "tickColor": "#000", "labelColor": "#000", "grid": false, "labelOverlap": false, "labelFlush": true}}, "text": {"field": "t"}}}
],
"resolve": {"scale": {"color": "independent", "strokeWidth": "independent", "strokeDash": "independent"}}
}
],
"resolve": {"scale": {"x": "independent", "y": "independent", "color": "independent", "strokeWidth": "independent", "strokeDash": "independent"}}
}
